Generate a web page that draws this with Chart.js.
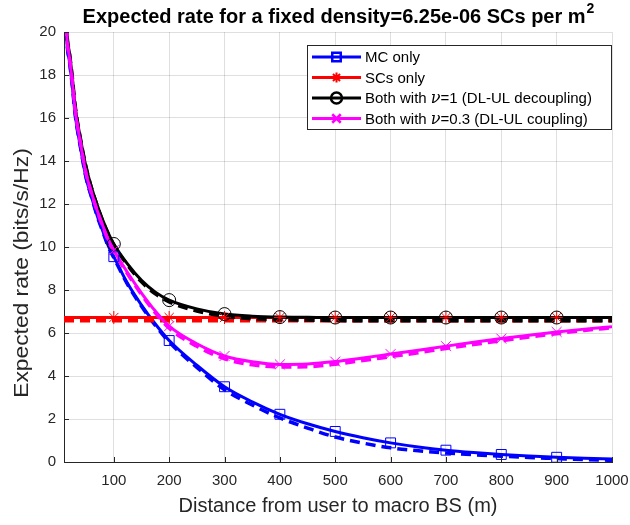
<!DOCTYPE html>
<html lang="en">
<head>
<meta charset="UTF-8">
<title>Expected rate for a fixed density</title>
<script src="https://cdn.jsdelivr.net/npm/chart.js"></script>
<style>
    html, body {
        margin: 0;
        padding: 0;
        background: #fff;
    }
    .wrap {
        width: 630px;
        height: 525px;
    }
</style>
</head>
<body>
<div class="wrap"><canvas id="rateChart" width="630" height="525"></canvas></div>
<script>
// distance from user to macro BS (m)
const distances = [10, 15, 20, 25, 30, 40, 50, 60, 70, 80, 90, 100, 125, 150, 175, 200, 250, 300, 350, 400,
                   450, 500, 550, 600, 650, 700, 750, 800, 850, 900, 950, 1000];
const markerDistances = [100, 200, 300, 400, 500, 600, 700, 800, 900];
const xTicks = [100, 200, 300, 400, 500, 600, 700, 800, 900, 1000];
const yTicks = [0, 2, 4, 6, 8, 10, 12, 14, 16, 18, 20];

// expected rate (bits/s/Hz), solid = simulation, dashed = analysis
const mcOnly      = [23.8, 19.7, 18.6, 17.5, 16.2, 14.6, 13.2, 12.3, 11.45, 10.75, 10.05, 9.55, 8.3, 7.3, 6.42, 5.65, 4.5, 3.5, 2.8, 2.22,
                     1.78, 1.42, 1.13, 0.89, 0.7, 0.55, 0.44, 0.35, 0.28, 0.22, 0.17, 0.14];
const mcOnlyAn    = [23.8, 19.7, 18.6, 17.5, 16.2, 14.6, 13.2, 12.3, 11.43, 10.72, 10.02, 9.5, 8.25, 7.24, 6.35, 5.58, 4.4, 3.36, 2.65, 2.05,
                     1.58, 1.16, 0.88, 0.66, 0.52, 0.42, 0.34, 0.27, 0.21, 0.16, 0.11, 0.08];
const scOnly      = [6.72, 6.72, 6.72, 6.72, 6.72, 6.72, 6.72, 6.72, 6.72, 6.72, 6.72, 6.72, 6.72, 6.72, 6.72, 6.72, 6.72, 6.72, 6.72, 6.72,
                     6.72, 6.72, 6.72, 6.72, 6.72, 6.72, 6.72, 6.72, 6.72, 6.72, 6.72, 6.72];
const scOnlyAn    = [6.57, 6.57, 6.57, 6.57, 6.57, 6.57, 6.57, 6.57, 6.57, 6.57, 6.57, 6.57, 6.57, 6.57, 6.57, 6.57, 6.57, 6.57, 6.57, 6.57,
                     6.57, 6.57, 6.57, 6.57, 6.57, 6.57, 6.57, 6.57, 6.57, 6.57, 6.57, 6.57];
const bothNu1     = [24.2, 20.1, 19.0, 17.9, 16.6, 15.0, 13.7, 12.75, 11.95, 11.25, 10.65, 10.14, 9.2, 8.45, 7.9, 7.53, 7.12, 6.88, 6.78, 6.74,
                     6.73, 6.72, 6.72, 6.72, 6.72, 6.72, 6.72, 6.72, 6.72, 6.72, 6.72, 6.72];
const bothNu1An   = [24.2, 20.1, 19.0, 17.9, 16.6, 15.0, 13.7, 12.72, 11.92, 11.2, 10.6, 10.1, 9.15, 8.38, 7.82, 7.45, 7.02, 6.78, 6.66, 6.62,
                     6.6, 6.58, 6.57, 6.57, 6.57, 6.57, 6.57, 6.57, 6.57, 6.57, 6.57, 6.57];
const bothNu03    = [24.0, 19.9, 18.8, 17.7, 16.4, 14.8, 13.4, 12.5, 11.7, 11.0, 10.35, 9.85, 8.8, 7.86, 7.02, 6.32, 5.5, 4.93, 4.66, 4.54,
                     4.56, 4.67, 4.84, 5.02, 5.2, 5.39, 5.57, 5.74, 5.9, 6.05, 6.18, 6.29];
const bothNu03An  = [24.0, 19.9, 18.8, 17.7, 16.4, 14.8, 13.4, 12.48, 11.67, 10.96, 10.3, 9.8, 8.74, 7.79, 6.94, 6.22, 5.38, 4.8, 4.52, 4.42,
                     4.43, 4.55, 4.72, 4.9, 5.08, 5.28, 5.46, 5.64, 5.81, 5.97, 6.12, 6.24];

const legendLabels = [
    ['MC only'],
    ['SCs only'],
    ['Both with ', 'ν', '=1 (DL-UL decoupling)'],
    ['Both with ', 'ν', '=0.3 (DL-UL coupling)']
];

const FONT = "'Liberation Sans', Arial, Helvetica, sans-serif";
const AXIS = '#262626';

const toPoints = (vals) => distances.map((d, i) => ({ x: d, y: vals[i] }));
const toMarkers = (vals) => markerDistances.map(d => ({ x: d, y: vals[distances.indexOf(d)] }));

const series = [
    { color: '#0000ff', marker: 'rect',     radius: 7,   sim: mcOnly,   an: mcOnlyAn },
    { color: '#ff0000', marker: 'star',     radius: 6.5, sim: scOnly,   an: scOnlyAn },
    { color: '#000000', marker: 'circle',   radius: 6.5, sim: bothNu1,  an: bothNu1An },
    { color: '#ff00ff', marker: 'crossRot', radius: 7,   sim: bothNu03, an: bothNu03An }
];

const datasets = [];
let ord = 100;
series.forEach(s => {
    datasets.push({
        data: toPoints(s.sim), borderColor: s.color, borderWidth: 3,
        pointRadius: 0, cubicInterpolationMode: 'monotone', order: ord--
    });
    datasets.push({
        data: toPoints(s.an), borderColor: s.color, borderWidth: 3.5, borderDash: [10, 6],
        pointRadius: 0, cubicInterpolationMode: 'monotone', order: ord--
    });
});
// markers on top of every line
series.forEach(s => {
    datasets.push({
        data: toMarkers(s.sim), showLine: false, borderColor: s.color, backgroundColor: 'transparent',
        pointStyle: s.marker, pointRadius: s.radius, pointBorderWidth: 1, order: ord--
    });
});

function drawMarker(ctx, style, x, y, r) {
    ctx.beginPath();
    if (style === 'rect') {
        const h = r * Math.SQRT1_2;
        ctx.rect(x - h, y - h, 2 * h, 2 * h);
    } else if (style === 'circle') {
        ctx.arc(x, y, r, 0, Math.PI * 2);
    } else if (style === 'crossRot') {
        const h = r * Math.SQRT1_2;
        ctx.moveTo(x - h, y - h); ctx.lineTo(x + h, y + h);
        ctx.moveTo(x - h, y + h); ctx.lineTo(x + h, y - h);
    } else if (style === 'star') {
        for (let k = 0; k < 4; k++) {
            const a = k * Math.PI / 4;
            ctx.moveTo(x - r * Math.cos(a), y - r * Math.sin(a));
            ctx.lineTo(x + r * Math.cos(a), y + r * Math.sin(a));
        }
    }
    ctx.stroke();
}

const decorations = {
    id: 'decorations',
    afterDraw(chart) {
        const ctx = chart.ctx;
        const area = chart.chartArea;
        const xs = chart.scales.x, ys = chart.scales.y;
        ctx.save();

        // inward tick marks
        ctx.strokeStyle = AXIS;
        ctx.lineWidth = 1;
        ctx.beginPath();
        xTicks.forEach(v => {
            const px = Math.round(xs.getPixelForValue(v)) + 0.5;
            ctx.moveTo(px, area.bottom); ctx.lineTo(px, area.bottom - 5);
        });
        yTicks.forEach(v => {
            const py = Math.round(ys.getPixelForValue(v)) + 0.5;
            ctx.moveTo(area.left, py); ctx.lineTo(area.left + 5, py);
        });
        ctx.stroke();

        // title with superscript
        ctx.fillStyle = '#000';
        const main = 'Expected rate for a fixed density=6.25e-06 SCs per m';
        ctx.font = 'bold 20px ' + FONT;
        const wMain = ctx.measureText(main).width;
        ctx.font = 'bold 14px ' + FONT;
        const wSup = ctx.measureText('2').width;
        const cx = (area.left + area.right) / 2;
        let tx = cx - (wMain + wSup) / 2;
        ctx.textBaseline = 'alphabetic';
        ctx.textAlign = 'left';
        ctx.font = 'bold 20px ' + FONT;
        ctx.fillText(main, tx, 23);
        ctx.font = 'bold 14px ' + FONT;
        ctx.fillText('2', tx + wMain + 1, 13);

        // axis titles
        ctx.fillStyle = AXIS;
        ctx.font = '20px ' + FONT;
        ctx.textAlign = 'center';
        ctx.textBaseline = 'middle';
        ctx.fillText('Distance from user to macro BS (m)', cx, 506);
        ctx.save();
        ctx.translate(22, 273);
        ctx.rotate(-Math.PI / 2);
        ctx.scale(1.14, 1);
        ctx.fillText('Expected rate (bits/s/Hz)', 0, 0);
        ctx.restore();

        // legend
        const box = { left: 307.5, top: 45.5, right: 611.5, bottom: 129.5 };
        ctx.fillStyle = '#fff';
        ctx.fillRect(box.left, box.top, box.right - box.left, box.bottom - box.top);
        ctx.strokeStyle = AXIS;
        ctx.lineWidth = 1;
        ctx.strokeRect(box.left, box.top, box.right - box.left, box.bottom - box.top);
        const rowY = [57, 77.5, 98, 118.5];
        series.forEach((s, i) => {
            const y = rowY[i];
            ctx.strokeStyle = s.color;
            ctx.lineWidth = 3;
            ctx.beginPath();
            ctx.moveTo(312, y); ctx.lineTo(361, y);
            ctx.stroke();
            ctx.lineWidth = s.marker === 'star' ? 2 : 2.5;
            drawMarker(ctx, s.marker, 336.5, y, s.marker === 'star' ? 5 : s.radius - 1);
            let x = 365;
            ctx.fillStyle = '#000';
            ctx.textAlign = 'left';
            ctx.textBaseline = 'middle';
            legendLabels[i].forEach(part => {
                ctx.font = part === 'ν' ? 'italic 16px "DejaVu Serif", "Liberation Serif", serif' : '15px ' + FONT;
                ctx.fillText(part, x, y + 1);
                x += ctx.measureText(part).width;
            });
        });
        ctx.restore();
    }
};

new Chart(document.getElementById('rateChart'), {
    type: 'line',
    data: { datasets: datasets },
    options: {
        responsive: false,
        animation: false,
        events: [],
        layout: { padding: { top: 32, right: 0, left: 0, bottom: 0 } },
        plugins: {
            legend: { display: false },
            title: { display: false },
            tooltip: { enabled: false }
        },
        scales: {
            x: {
                type: 'linear',
                min: 10,
                max: 1000,
                afterFit: s => { s.height = 63; s.paddingRight = 18; },
                afterBuildTicks: s => { s.ticks = xTicks.map(v => ({ value: v })); },
                grid: { color: 'rgba(38,38,38,0.15)', drawTicks: false },
                border: { color: AXIS, width: 1 },
                ticks: {
                    padding: 10,
                    color: AXIS,
                    font: { family: FONT, size: 15 },
                    maxRotation: 0,
                    callback: v => String(v)
                }
            },
            y: {
                min: 0,
                max: 20,
                afterFit: s => { s.width = 64; },
                afterBuildTicks: s => { s.ticks = yTicks.map(v => ({ value: v })); },
                grid: { color: 'rgba(38,38,38,0.15)', drawTicks: false },
                border: { color: AXIS, width: 1 },
                ticks: {
                    padding: 8,
                    color: AXIS,
                    font: { family: FONT, size: 15 },
                    callback: v => String(v)
                }
            }
        }
    },
    plugins: [decorations]
});
</script>
</body>
</html>
